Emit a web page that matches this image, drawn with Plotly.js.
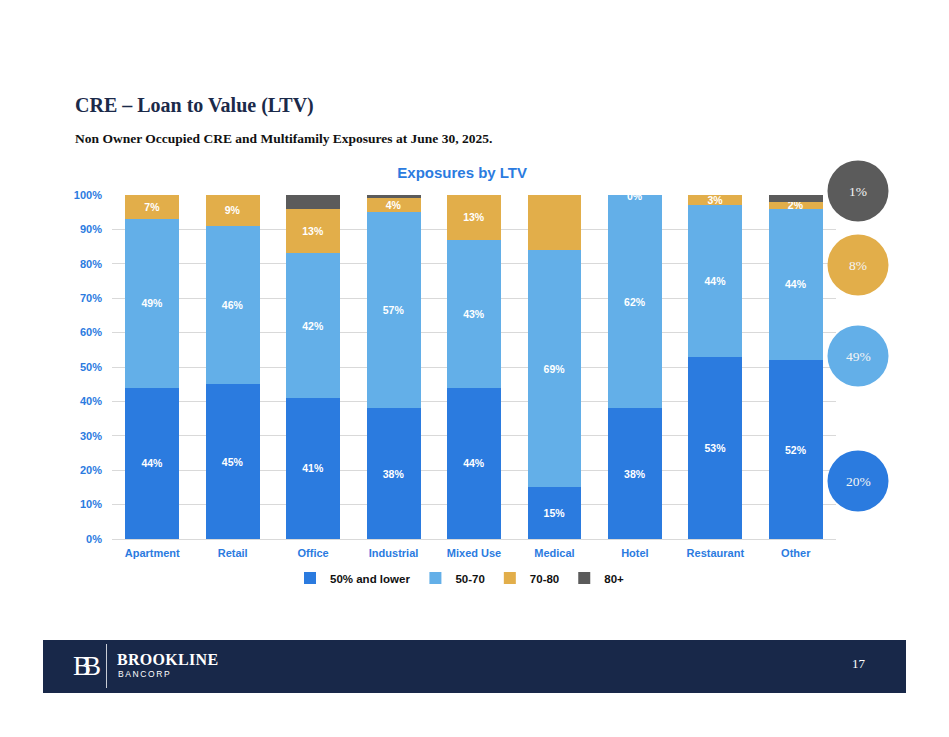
<!DOCTYPE html>
<html>
<head>
<meta charset="utf-8">
<script src="https://cdn.plot.ly/plotly-3.0.1.min.js"></script>
<style>
  html, body { margin:0; padding:0; background:#fff; }
  #wrap { position:relative; width:949px; height:737px; overflow:hidden; }
  #chart { position:absolute; left:0; top:0; width:949px; height:737px; }
  .ov { position:absolute; white-space:nowrap; line-height:1; }
</style>
</head>
<body>
<div id="wrap">
  <div id="chart"></div>
  <div class="ov" style="left:75px;top:95px;font-family:'Liberation Serif','DejaVu Serif',serif;font-weight:bold;font-size:20px;color:#1b2a4a;">CRE – Loan to Value (LTV)</div>
  <div class="ov" style="left:75px;top:132px;font-family:'Liberation Serif','DejaVu Serif',serif;font-weight:bold;font-size:13.5px;color:#111;">Non Owner Occupied CRE and Multifamily Exposures at June 30, 2025.</div>
  <div class="ov" style="left:43px;top:640px;width:863px;height:53px;background:#182849;">
    <div class="ov" style="left:30px;top:13px;font-family:'Liberation Serif',serif;font-size:27px;color:#fff;letter-spacing:-8px;">BB</div>
    <div class="ov" style="left:63px;top:4px;width:1px;height:44px;background:#c9cdd6;"></div>
    <div class="ov" style="left:74px;top:12px;font-family:'Liberation Serif',serif;font-weight:bold;font-size:16px;color:#fff;letter-spacing:0.3px;">BROOKLINE</div>
    <div class="ov" style="left:75px;top:30px;font-family:'Liberation Sans',Arial,sans-serif;font-size:8.5px;color:#fff;letter-spacing:1.6px;">BANCORP</div>
    <div class="ov" style="left:809px;top:17px;font-family:'Liberation Serif',serif;font-size:13px;color:#fff;">17</div>
  </div>
</div>
<script>
// ---- data ----
const categories = ['Apartment','Retail','Office','Industrial','Mixed Use','Medical','Hotel','Restaurant','Other'];
const ltv50Lower = [44,45,41,38,44,15,38,53,52];
const ltv50to70  = [49,46,42,57,43,69,62,44,44];
const ltv70to80  = [7,9,13,4,13,16,0,3,2];
const ltv80Plus  = [0,0,4,1,0,0,0,0,2];
const labels50Lower = ['44%','45%','41%','38%','44%','15%','38%','53%','52%'];
const labels50to70  = ['49%','46%','42%','57%','43%','69%','62%','44%','44%'];
const labels70to80  = ['7%','9%','13%','4%','13%','','0%','3%','2%'];
const seriesNames = ['50% and lower','50-70','70-80','80+'];
const totalLabels = ['1%','8%','49%','20%'];   // summary bubbles, top to bottom
const yTickVals = [0,10,20,30,40,50,60,70,80,90,100];
const yTickText = ['0%','10%','20%','30%','40%','50%','60%','70%','80%','90%','100%'];

// ---- style ----
const colors = ['#2b7bdf','#63afe8','#e2ae4a','#5b5b5b'];
const bubbleColors = ['#5b5b5b','#e2ae4a','#63afe8','#2b7bdf'];
const sans = "'Liberation Sans',Arial,sans-serif";
const labelFont = {family: sans, size: 10.5, color:'#ffffff', weight: 'bold'};

function barTrace(name, vals, texts, color) {
  return {
    type:'bar', name:name, x:categories, y:vals,
    marker:{color:color, line:{width:0}},
    text: texts, textposition: texts ? 'inside' : 'none',
    insidetextanchor:'middle', textangle:0, constraintext:'none',
    textfont: labelFont, hoverinfo:'skip', cliponaxis:false
  };
}

const traces = [
  barTrace(seriesNames[0], ltv50Lower, labels50Lower, colors[0]),
  barTrace(seriesNames[1], ltv50to70, labels50to70, colors[1]),
  barTrace(seriesNames[2], ltv70to80, labels70to80.map((t,i)=> ltv70to80[i]>0 ? t : ''), colors[2]),
  barTrace(seriesNames[3], ltv80Plus, null, colors[3])
];

// geometry of plot area (px)
const W = 949, H = 737, L = 112, R = 836, T = 195, B = 539;
const px2x = p => (p - L) / (R - L);
const px2y = p => (B - p) / (B - T);

const annotations = [];
// labels for zero-height segments, placed at the stack top through the axes
labels70to80.forEach((t,i) => {
  if (ltv70to80[i] === 0 && t) {
    annotations.push({x:categories[i], y: ltv50Lower[i]+ltv50to70[i], xref:'x', yref:'y',
      text:t, showarrow:false, font:labelFont, yanchor:'middle', yshift:-1});
  }
});

// summary bubbles
const bubbleCY = [191, 265, 356, 481];
const shapes = [];
totalLabels.forEach((t,i) => {
  shapes.push({type:'circle', xref:'paper', yref:'paper', xsizemode:'pixel', ysizemode:'pixel',
    xanchor:px2x(858), yanchor:px2y(bubbleCY[i]), x0:-30.5, x1:30.5, y0:-30.5, y1:30.5,
    fillcolor:bubbleColors[i], line:{width:0}, layer:'above'});
  annotations.push({xref:'paper', yref:'paper', x:px2x(858), y:px2y(bubbleCY[i]), text:t,
    showarrow:false, xanchor:'center', yanchor:'middle',
    font:{family:"'Liberation Serif','DejaVu Serif',serif", size:13.5, color:'#f4f4f4'}});
});

const tickFont = {family: sans, size: 11, color:'#2b7bdf', weight:'bold'};

const layout = {
  width:W, height:H,
  margin:{l:L, r:W-R, t:T, b:H-B, pad:0},
  paper_bgcolor:'#ffffff', plot_bgcolor:'#ffffff',
  barmode:'stack', bargap:0.33,
  title:{text:'Exposures by LTV', x:459/W, xanchor:'center', xref:'paper',
         y:1-173/H, yanchor:'middle', yref:'container',
         font:{family:sans, size:15, color:'#2b7bdf', weight:'bold'}},
  xaxis:{type:'category', showgrid:false, zeroline:false, showline:false, ticks:'',
         tickfont:tickFont, ticklabelstandoff:6, fixedrange:true},
  yaxis:{range:[0,100], tickvals:yTickVals, ticktext:yTickText, showgrid:true,
         gridcolor:'#d9d9d9', gridwidth:1, zeroline:true, zerolinecolor:'#d9d9d9', zerolinewidth:1,
         showline:false, ticks:'', tickfont:tickFont, ticklabelstandoff:9, fixedrange:true},
  showlegend:true,
  legend:{orientation:'h', x:px2x(460), xanchor:'center', y:px2y(578), yanchor:'middle',
          font:{family:sans, size:11.5, color:'#111', weight:'bold'},
          itemwidth:30, itemclick:false, itemdoubleclick:false, traceorder:'normal'},
  shapes:shapes, annotations:annotations, hovermode:false
};

Plotly.newPlot('chart', traces, layout, {displayModeBar:false, staticPlot:true});
</script>
</body>
</html>
